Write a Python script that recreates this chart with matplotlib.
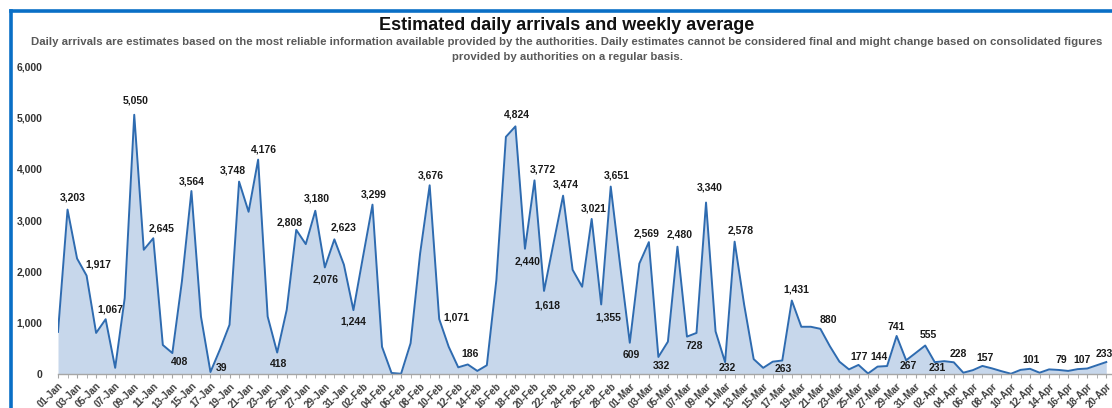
import matplotlib
matplotlib.use("Agg")
import matplotlib.pyplot as plt
import pandas as pd
from matplotlib.lines import Line2D

plt.rcParams["font.family"] = ["Liberation Sans", "DejaVu Sans"]

# daily arrivals, 01-Jan .. 20-Apr (leap year)
dates = pd.date_range("2016-01-01", "2016-04-20", freq="D")
day_labels = [d.strftime("%d-%b") for d in dates]

arrivals = [
    820, 3203, 2250, 1917, 800, 1067, 120, 1480, 5050, 2420,
    2645, 565, 408, 1800, 3564, 1120, 39, 480, 960, 3748,
    3160, 4176, 1120, 418, 1250, 2808, 2530, 3180, 2076, 2623,
    2130, 1244, 2280, 3299, 530, 20, 5, 600, 2350, 3676,
    1071, 530, 130, 186, 60, 170, 1830, 4620, 4824, 2440,
    3772, 1618, 2550, 3474, 2030, 1700, 3021, 1355, 3651, 2100,
    609, 2150, 2569, 332, 630, 2480, 728, 800, 3340, 830,
    232, 2578, 1350, 290, 120, 240, 263, 1431, 920, 920,
    880, 540, 240, 90, 177, 10, 144, 155, 741, 267,
    410, 555, 231, 250, 228, 25, 75, 157, 110, 55,
    5, 80, 101, 25, 90, 79, 60, 95, 107, 170,
    233,
]

# which points carry a value label
labelled_days = [1, 3, 5, 8, 10, 12, 14, 16, 19, 21, 23, 25, 27, 28, 29, 31, 33,
                 39, 40, 43, 48, 49, 50, 51, 53, 56, 57, 58, 60, 62, 63, 65,
                 66, 68, 70, 71, 76, 77, 80, 84, 86, 88, 89, 91, 92, 94, 97,
                 102, 105, 108, 110]
# label offsets in pixels (dx, dy), y up
label_offsets = [(5, 12), (12, 11), (5, 10), (1, 14), (8, 10), (7, -9), (0, 10),
                 (11, 4), (-6, 11), (6, 10), (1, -11), (-7, 7), (1, 12), (1, -12),
                 (9, 12), (0, -11), (1, 10), (1, 10), (17, 2), (2, 10), (1, 12),
                 (3, -13), (8, 11), (3, -15), (3, 11), (2, 10), (7, -13), (6, 11),
                 (1, -12), (-2, 9), (3, -9), (2, 12), (7, -9), (4, 15), (2, -6),
                 (6, 11), (1, -9), (5, 11), (8, 9), (1, 8), (1, 10), (0, 9),
                 (2, -6), (3, 11), (3, -6), (5, 8), (3, 8), (1, 9), (3, 10),
                 (-5, 9), (-2, 8)]

W, H = 1112, 408
fig = plt.figure(figsize=(W / 100, H / 100), dpi=100)
fig.patch.set_facecolor("white")

ax = fig.add_axes([58 / W, 1 - 374 / H, 1 - 58 / W, (374 - 66) / H])
x = list(range(len(arrivals)))
ax.fill_between(x, arrivals, 0, color="#c7d7eb", lw=0)
ax.plot(x, arrivals, color="#2e6bb0", lw=1.4)

for i, (dx, dy) in zip(labelled_days, label_offsets):
    ax.annotate(f"{arrivals[i]:,}", (i, arrivals[i]), xytext=(dx, dy),
                textcoords="offset pixels", ha="center", va="center",
                fontsize=7.5, fontweight="bold", color="#1a1a1a",
                annotation_clip=False)

ax.set_xlim(0, 110.6)
ax.set_ylim(0, 6000)
ax.set_yticks(range(0, 6001, 1000))
ax.set_yticklabels([f"{v:,}" for v in range(0, 6001, 1000)],
                   fontsize=7.5, fontweight="bold", color="#333333")
ax.tick_params(axis="y", length=0, pad=11)

ax.set_xticks(x[::2])
ax.set_xticklabels(day_labels[::2], rotation=45, ha="right",
                   rotation_mode="anchor", fontsize=7, fontweight="bold",
                   color="#404040")
ax.set_xticks(x, minor=True)
ax.tick_params(axis="x", which="both", length=3, color="#a6a6a6", pad=2)

for s in ["top", "right", "left"]:
    ax.spines[s].set_visible(False)
ax.spines["bottom"].set_color("#a6a6a6")
ax.spines["bottom"].set_linewidth(1.0)
ax.set_facecolor("none")

fig.text(567 / W, 1 - 25 / H, "Estimated daily arrivals and weekly average",
         ha="center", va="center", fontsize=13, fontweight="bold", color="#111111")
fig.text(567 / W, 1 - 42 / H,
         "Daily arrivals are estimates based on the most reliable information "
         "available provided by the authorities. Daily estimates cannot be "
         "considered final and might change based on consolidated figures",
         ha="center", va="center", fontsize=8.2, fontweight="bold", color="#595959")
fig.text(567 / W, 1 - 57 / H, "provided by authorities on a regular basis.",
         ha="center", va="center", fontsize=8.2, fontweight="bold", color="#595959")

# blue frame (top and left edges visible)
border = "#0a6fc6"
fig.add_artist(Line2D([11 / W, 11 / W], [0, 1 - 11 / H], color=border, lw=2.6,
                      transform=fig.transFigure, solid_capstyle="projecting"))
fig.add_artist(Line2D([11 / W, 1], [1 - 11 / H, 1 - 11 / H], color=border, lw=2.6,
                      transform=fig.transFigure, solid_capstyle="projecting"))

fig.savefig("out.png", dpi=100)
